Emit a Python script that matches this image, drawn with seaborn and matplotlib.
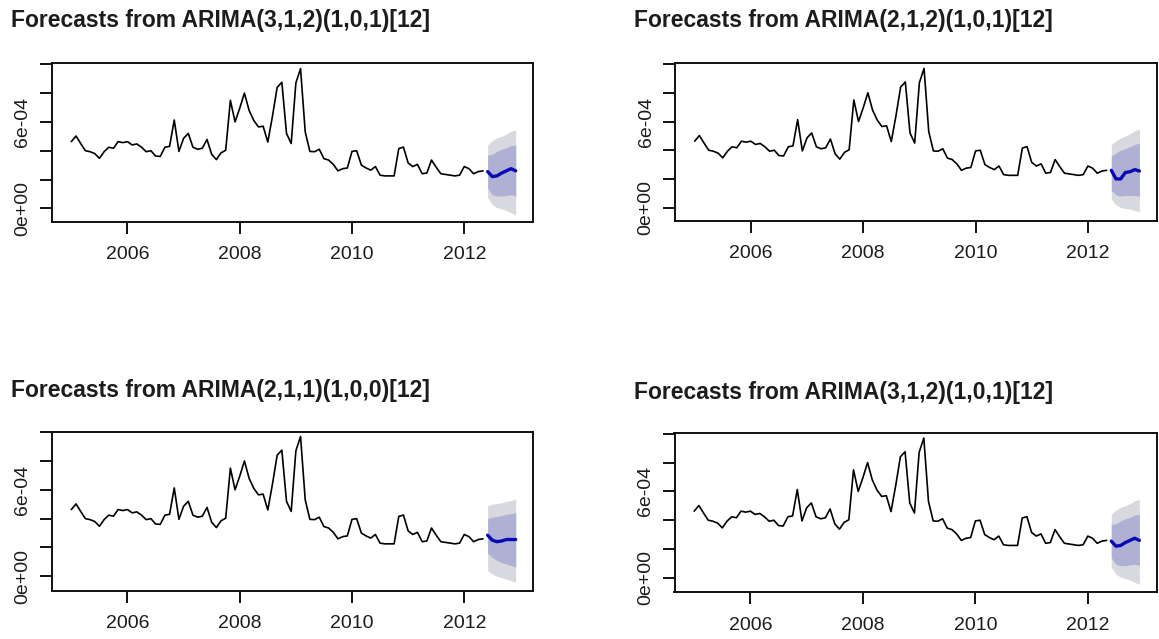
import matplotlib
matplotlib.use("Agg")
import numpy as np
import pandas as pd
import matplotlib.pyplot as plt
import seaborn as sns
from matplotlib.ticker import FixedLocator

# ---------------- data (values in units of 1e-4) ----------------
start_year = 2005
series_e4 = [
    4.63, 5.02, 4.50, 4.00, 3.93, 3.80, 3.47, 3.93, 4.24, 4.17, 4.63, 4.56,   # 2005
    4.63, 4.40, 4.47, 4.24, 3.93, 4.00, 3.63, 3.60, 4.24, 4.30, 6.13, 3.95,   # 2006
    4.86, 5.20, 4.24, 4.10, 4.17, 4.78, 3.75, 3.38, 3.85, 4.03, 7.50, 6.00,   # 2007
    6.95, 8.00, 6.80, 6.10, 5.65, 5.70, 4.60, 6.40, 8.40, 8.75, 5.20, 4.50,   # 2008
    8.70, 9.70, 5.30, 3.95, 3.93, 4.10, 3.45, 3.35, 3.05, 2.60, 2.75, 2.80,   # 2009
    3.95, 4.00, 3.00, 2.80, 2.65, 2.90, 2.30, 2.25, 2.25, 2.25, 4.15, 4.25,   # 2010
    3.15, 2.90, 3.05, 2.40, 2.45, 3.35, 2.85, 2.40, 2.35, 2.30, 2.25, 2.30,   # 2011
    2.90, 2.75, 2.40, 2.55, 2.60,                                             # 2012 Jan-May
]

titles = [
    "Forecasts from ARIMA(3,1,2)(1,0,1)[12]",
    "Forecasts from ARIMA(2,1,2)(1,0,1)[12]",
    "Forecasts from ARIMA(2,1,1)(1,0,0)[12]",
    "Forecasts from ARIMA(3,1,2)(1,0,1)[12]",
]

# forecasts Jun-Dec 2012
fc_mean = [
    [2.55, 2.20, 2.25, 2.45, 2.60, 2.75, 2.60],
    [2.60, 2.00, 2.00, 2.45, 2.50, 2.65, 2.55],
    [2.85, 2.50, 2.40, 2.45, 2.55, 2.55, 2.55],
    [2.55, 2.20, 2.25, 2.45, 2.60, 2.75, 2.60],
]
fc_hi95 = [
    [4.40, 4.70, 4.90, 5.00, 5.15, 5.35, 5.45],
    [4.40, 4.65, 4.85, 5.00, 5.15, 5.35, 5.50],
    [4.90, 5.00, 5.05, 5.10, 5.20, 5.25, 5.35],
    [4.40, 4.70, 4.90, 5.00, 5.15, 5.35, 5.45],
]
fc_lo95 = [
    [0.75, 0.25, 0.05, -0.05, -0.15, -0.30, -0.45],
    [0.60, 0.20, 0.00, -0.05, -0.10, -0.20, -0.30],
    [0.40, 0.15, 0.00, -0.10, -0.20, -0.30, -0.40],
    [0.75, 0.25, 0.05, -0.05, -0.15, -0.30, -0.45],
]
fc_hi80 = [
    [3.70, 3.75, 3.95, 4.10, 4.20, 4.35, 4.40],
    [3.60, 3.80, 4.00, 4.10, 4.25, 4.40, 4.50],
    [4.00, 4.10, 4.15, 4.20, 4.30, 4.35, 4.40],
    [3.70, 3.75, 3.95, 4.10, 4.20, 4.35, 4.40],
]
fc_lo80 = [
    [1.40, 0.95, 0.85, 0.85, 0.90, 0.95, 0.85],
    [1.20, 0.90, 0.80, 0.85, 0.85, 0.85, 0.80],
    [1.60, 1.30, 1.10, 0.95, 0.85, 0.75, 0.65],
    [1.40, 0.95, 0.85, 0.85, 0.90, 0.95, 0.85],
]

xticks = [2006, 2008, 2010, 2012]
yticks_e4 = [0, 2, 4, 6, 8, 10]
ylabels_shown = {0: "0e+00", 6: "6e-04"}
scale = 1e-4

# ---------------- style ----------------
sns.set_theme(style="ticks")
plt.rcParams["font.family"] = ["Liberation Sans", "DejaVu Sans"]

W, H = 1159, 639
fig = plt.figure(figsize=(W / 100, H / 100), dpi=100)
fig.patch.set_facecolor("white")

# axes boxes in pixel coords (left, top, right, bottom)
boxes = [
    (51.7, 62.7, 533.3, 221.7),
    (675.0, 62.5, 1157.0, 221.0),
    (51.7, 431.7, 533.3, 590.7),
    (674.5, 433.3, 1157.0, 592.3),
]
title_pos = [(11, 20), (634, 21), (11, 390), (634, 392)]
ylims = [(-0.93, 10.11), (-0.93, 10.11), (-1.0, 10.03), (-1.0, 10.03)]

hist = pd.DataFrame({
    "time": start_year + np.arange(len(series_e4)) / 12.0,
    "value": np.array(series_e4) * scale,
})
n_hist = len(series_e4)

c95 = "#D8D8DF"
c80 = "#AEB0D4"
cblue = "#0A0AB4"
txt = "#1c1c1c"

for i in range(4):
    l, t, r, b = boxes[i]
    ax = fig.add_axes([l / W, 1 - b / H, (r - l) / W, (b - t) / H])
    ax.set_facecolor("white")
    ft = start_year + (n_hist + np.arange(len(fc_mean[i]))) / 12.0
    ax.fill_between(ft, np.array(fc_lo95[i]) * scale, np.array(fc_hi95[i]) * scale,
                    color=c95, linewidth=0, zorder=1)
    ax.fill_between(ft, np.array(fc_lo80[i]) * scale, np.array(fc_hi80[i]) * scale,
                    color=c80, linewidth=0, zorder=2)
    sns.lineplot(data=hist, x="time", y="value", ax=ax, color="black",
                 linewidth=1.2, zorder=3)
    fcdf = pd.DataFrame({"time": ft, "value": np.array(fc_mean[i]) * scale})
    sns.lineplot(data=fcdf, x="time", y="value", ax=ax, color=cblue,
                 linewidth=2.4, zorder=4)

    ax.set_xlim(2004.65, 2013.23)
    ax.set_ylim(ylims[i][0] * scale, ylims[i][1] * scale)
    ax.xaxis.set_major_locator(FixedLocator(xticks))
    ax.set_xticklabels([str(v) for v in xticks])
    ax.yaxis.set_major_locator(FixedLocator([v * scale for v in yticks_e4]))
    ax.set_yticklabels([ylabels_shown.get(v, "") for v in yticks_e4],
                       rotation=90, va="center")
    ax.set_xlabel("")
    ax.set_ylabel("")
    for s in ax.spines.values():
        s.set_visible(True)
        s.set_linewidth(1.4)
        s.set_color("#111111")
    ax.tick_params(axis="both", direction="out", length=8.6, width=1.4,
                   color="#111111", labelsize=14, labelcolor=txt)
    ax.tick_params(axis="x", pad=9)
    ax.tick_params(axis="y", pad=6)
    ax.grid(False)

    tx, ty = title_pos[i]
    fig.text(tx / W, 1 - ty / H, titles[i], fontsize=16.5, fontweight="bold",
             color=txt, ha="left", va="center")

fig.savefig("out.png", dpi=100, facecolor="white")
